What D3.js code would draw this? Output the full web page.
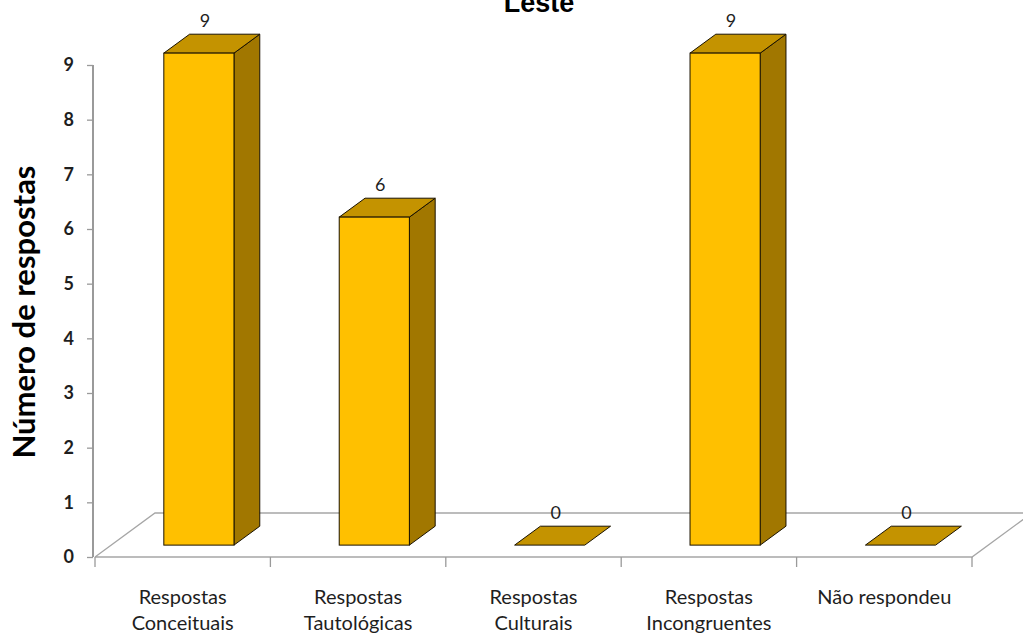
<!DOCTYPE html>
<html>
<head>
<meta charset="utf-8">
<script src="https://cdn.jsdelivr.net/npm/d3@7"></script>
<style>
  html, body { margin: 0; padding: 0; background: #fff; }
  svg { display: block; }
</style>
</head>
<body>
<svg id="chart" width="1023" height="637"></svg>
<script>
// Data
const categories = [
  ["Respostas", "Conceituais"],
  ["Respostas", "Tautológicas"],
  ["Respostas", "Culturais"],
  ["Respostas", "Incongruentes"],
  ["Não respondeu"]
];
const values = [9, 6, 0, 9, 0];
const yTicks = [0, 1, 2, 3, 4, 5, 6, 7, 8, 9];
const chartTitle = "Leste";
const yTitle = "Número de respostas";

const svg = d3.select("#chart");

// Plot frame (front plane of the floor)
const x0 = 95, x1 = 972;
const yBase = 557, yTop = 65;

// Depth vector of the floor, and the slice of it taken by the bars
const depth = { dx: 60, dy: -44 };
const fFront = 0.27, fBack = 0.70;

const x = d3.scaleBand()
  .domain(d3.range(categories.length))
  .range([x0, x1])
  .paddingInner(0)
  .paddingOuter(0);

const y = d3.scaleLinear().domain([0, 9]).range([yBase, yTop]);

const barW = x.bandwidth() * 0.4;

const axisColor = "#9a9a9a";
const textColor = "#1e1e1e";
const frontFill = "#FFC000";
const topFill = "#C49300";
const sideFill = "#A17700";
const edge = "#1a1200";
const font = "Lato, 'Open Sans', sans-serif";

// Floor outline
const floor = svg.append("g");
const bl = [x0, yBase];
const br = [x1, yBase];
const tl = [x0 + depth.dx, yBase + depth.dy];
const tr = [x1 + depth.dx, yBase + depth.dy];
floor.append("path")
  .attr("d", `M${bl}L${tl}L${tr}M${bl}L${br}L${tr}`)
  .attr("fill", "none")
  .attr("stroke", "#a6a6a6")
  .attr("stroke-width", 1.3);

// Category ticks along the front edge
floor.selectAll("line.ct")
  .data(d3.range(categories.length + 1))
  .join("line")
  .attr("x1", i => x0 + i * x.step())
  .attr("x2", i => x0 + i * x.step())
  .attr("y1", yBase)
  .attr("y2", yBase + 10)
  .attr("stroke", axisColor)
  .attr("stroke-width", 1.3);

// Value axis
const yAxisX = 93;
const yAxis = svg.append("g")
  .attr("transform", `translate(${yAxisX},0)`)
  .call(d3.axisLeft(y).tickValues(yTicks).tickFormat(d3.format("d")).tickSize(6).tickPadding(13));
yAxis.select(".domain").attr("stroke", axisColor).attr("stroke-width", 2)
  .attr("d", `M0,${yTop}V${yBase}`);
yAxis.selectAll(".tick line").attr("stroke", axisColor).attr("stroke-width", 1.3);
yAxis.selectAll(".tick text")
  .attr("fill", textColor)
  .style("font-family", font)
  .style("font-weight", "bold")
  .style("font-size", "18px");

// Bars
const bars = svg.append("g");
values.forEach((v, i) => {
  const cx = x(i) + x.bandwidth() / 2;
  const ox = depth.dx * fFront, oy = depth.dy * fFront;
  const ddx = depth.dx * (fBack - fFront), ddy = depth.dy * (fBack - fFront);
  const left = cx + ox - barW / 2, right = cx + ox + barW / 2;
  const bottom = y(0) + oy, top = y(v) + oy;
  const g = bars.append("g");
  if (v > 0) {
    // side face
    g.append("path")
      .attr("d", `M${right},${bottom}L${right + ddx},${bottom + ddy}L${right + ddx},${top + ddy}L${right},${top}Z`)
      .attr("fill", sideFill).attr("stroke", edge).attr("stroke-width", 1).attr("stroke-linejoin", "round");
  }
  // top face
  g.append("path")
    .attr("d", `M${left},${top}L${left + ddx},${top + ddy}L${right + ddx},${top + ddy}L${right},${top}Z`)
    .attr("fill", topFill).attr("stroke", edge).attr("stroke-width", 1).attr("stroke-linejoin", "round");
  if (v > 0) {
    // front face
    g.append("rect")
      .attr("x", left).attr("y", top)
      .attr("width", barW).attr("height", bottom - top)
      .attr("fill", frontFill).attr("stroke", edge).attr("stroke-width", 1);
  }
  // value label
  svg.append("text")
    .attr("x", cx + ox + 6)
    .attr("y", top + ddy - 14)
    .attr("dy", "0.35em")
    .attr("text-anchor", "middle")
    .attr("fill", textColor)
    .style("font-family", font)
    .style("font-size", "18px")
    .text(v);
});

// Category labels
const catLabels = svg.append("g")
  .style("font-family", font)
  .style("font-size", "20px")
  .attr("fill", textColor)
  .attr("text-anchor", "middle");
categories.forEach((lines, i) => {
  const t = catLabels.append("text")
    .attr("x", x(i) + x.bandwidth() / 2)
    .attr("y", 604);
  lines.forEach((ln, k) => {
    t.append("tspan")
      .attr("x", x(i) + x.bandwidth() / 2)
      .attr("dy", k === 0 ? 0 : 26)
      .text(ln);
  });
});

// Axis title
svg.append("text")
  .attr("transform", `translate(35,312) rotate(-90)`)
  .attr("text-anchor", "middle")
  .attr("fill", "#000")
  .style("font-family", font)
  .style("font-weight", "bold")
  .style("font-size", "31px")
  .text(yTitle);

// Chart title (partly above the top edge)
svg.append("text")
  .attr("x", 539)
  .attr("y", 12)
  .attr("text-anchor", "middle")
  .attr("fill", "#000")
  .style("font-family", "'Liberation Sans', Arial, sans-serif")
  .style("font-weight", "bold")
  .style("font-size", "27px")
  .text(chartTitle);
</script>
</body>
</html>
